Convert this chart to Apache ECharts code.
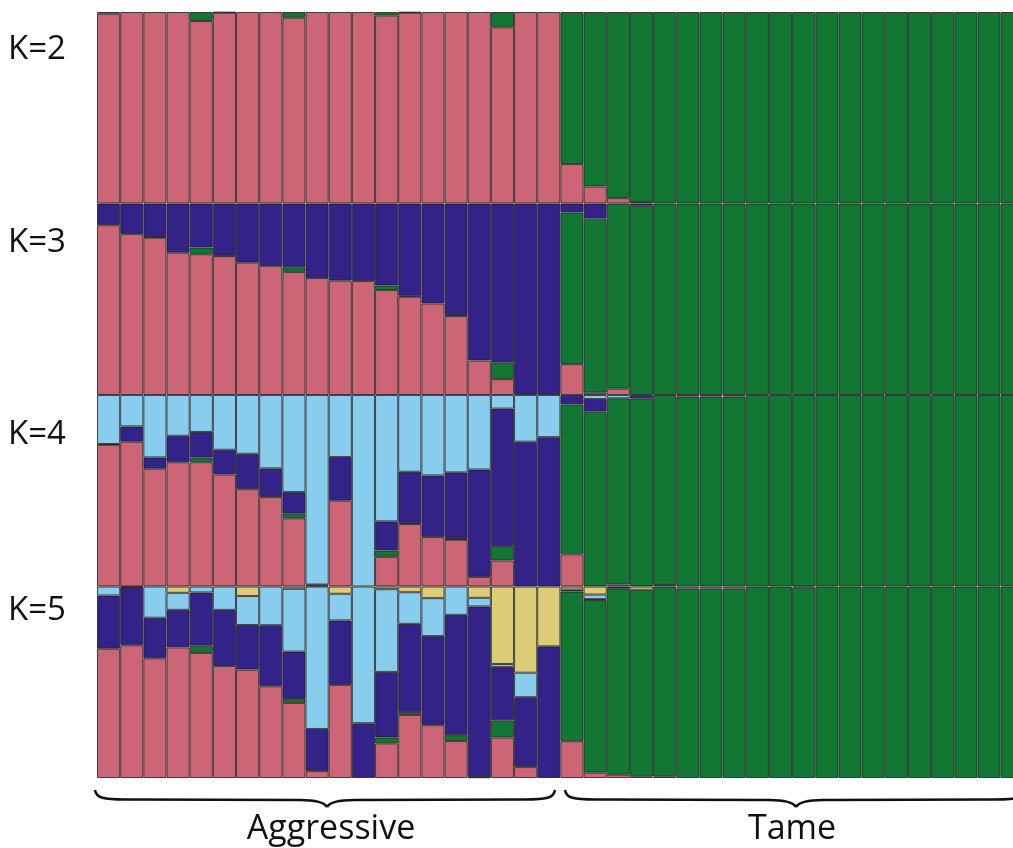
<!DOCTYPE html>
<html>
<head>
<meta charset="utf-8">
<script src="https://cdn.jsdelivr.net/npm/echarts@6/dist/echarts.min.js"></script>
<style>
  html, body { margin: 0; padding: 0; background: #fff; overflow: hidden; }
  /* wider than the window: the last tame bar is cut off by the right edge */
  #chart { width: 1030px; height: 848px; }
</style>
</head>
<body>
<div id="chart"></div>
<script>
// individuals: 20 aggressive, 20 tame (last one runs off the right edge)
const individuals = [
  'A1','A2','A3','A4','A5','A6','A7','A8','A9','A10',
  'A11','A12','A13','A14','A15','A16','A17','A18','A19','A20',
  'T1','T2','T3','T4','T5','T6','T7','T8','T9','T10',
  'T11','T12','T13','T14','T15','T16','T17','T18','T19','T20'
];
const groupLabels = ['Aggressive', 'Tame'];
const kLabels = ['K=2', 'K=3', 'K=4', 'K=5'];

// ancestry proportions, cluster order bottom -> top: pink, green, dark blue, light blue, yellow
const k2Pink  = [0.991,1,1,1,0.953,0.997,1,1,0.97,1, 1,1,0.981,0.997,1,1,1,0.92,1,1,
                 0.206,0.089,0.028,0.008,0,0,0,0,0,0, 0,0,0,0,0,0,0,0,0,0];
const k2Green = [0.009,0,0,0,0.047,0.003,0,0,0.03,0, 0,0,0.019,0.003,0,0,0,0.08,0,0,
                 0.794,0.911,0.972,0.992,1,1,1,1,1,1, 1,1,1,1,1,1,1,1,1,1];

const k3Pink  = [0.887,0.841,0.822,0.743,0.735,0.725,0.691,0.674,0.643,0.611,
                 0.597,0.595,0.548,0.513,0.478,0.412,0.18,0.083,0,0,
                 0.161,0.012,0.033,0,0,0,0,0,0,0, 0,0,0,0,0,0,0,0,0,0];
const k3Green = [0,0,0.003,0,0.035,0.003,0,0,0.024,0, 0,0,0.024,0.005,0,0.005,0,0.086,0,0,
                 0.792,0.909,0.967,0.988,1,1,1,1,1,1, 1,1,1,1,1,1,1,1,1,1];
const k3Blue  = [0.113,0.159,0.175,0.257,0.23,0.272,0.309,0.326,0.333,0.389,
                 0.403,0.405,0.428,0.482,0.522,0.583,0.82,0.831,1,1,
                 0.047,0.079,0,0.012,0,0,0,0,0,0, 0,0,0,0,0,0,0,0,0,0];

const k4Pink  = [0.74,0.756,0.615,0.649,0.649,0.585,0.508,0.467,0.356,0.005,
                 0.448,0,0.155,0.326,0.258,0.244,0.05,0.136,0,0,
                 0.168,0,0.01,0,0.008,0,0,0,0,0, 0,0,0,0,0,0,0,0,0,0];
const k4Green = [0.004,0,0,0,0.024,0,0,0,0.024,0, 0,0,0.033,0.005,0,0.004,0,0.075,0,0,
                 0.783,0.913,0.973,0.983,0.992,0.992,0.992,0.992,1,1, 1,1,1,1,1,1,1,1,1,1];
const k4Blue  = [0,0.08,0.059,0.138,0.134,0.129,0.185,0.15,0.113,0.005,
                 0.228,0,0.152,0.268,0.322,0.348,0.561,0.718,0.756,0.78,
                 0.049,0.066,0,0.017,0,0,0,0,0,0, 0,0,0,0,0,0,0,0,0,0];
const k4Light = [0.256,0.164,0.326,0.213,0.193,0.286,0.307,0.383,0.507,0.99,
                 0.324,1,0.66,0.401,0.42,0.404,0.389,0.071,0.244,0.22,
                 0,0.021,0.017,0,0,0.008,0.008,0.008,0,0, 0,0,0,0,0,0,0,0,0,0];

const k5Pink   = [0.675,0.693,0.625,0.682,0.653,0.585,0.566,0.479,0.392,0.036,
                  0.486,0,0.181,0.329,0.276,0.193,0.004,0.211,0.057,0,
                  0.192,0.028,0.017,0.009,0.007,0,0,0,0,0, 0,0,0,0,0,0,0,0,0,0];
const k5Green  = [0,0,0,0,0.038,0,0,0,0.021,0, 0,0,0.031,0.016,0,0.031,0,0.09,0,0,
                  0.782,0.901,0.971,0.974,0.993,0.99,0.99,0.99,1,1, 0.994,1,1,1,1,1,1,1,1,1];
const k5Blue   = [0.278,0.304,0.212,0.196,0.278,0.293,0.233,0.319,0.247,0.22,
                  0.337,0.286,0.342,0.46,0.465,0.628,0.892,0.278,0.365,0.6875,
                  0.01,0.005,0.012,0,0,0,0,0,0,0, 0,0,0,0,0,0,0,0,0,0];
const k5Light  = [0.047,0.003,0.163,0.089,0.031,0.122,0.151,0.202,0.328,0.744,
                  0.139,0.714,0.432,0.165,0.198,0.148,0.045,0.016,0.128,0,
                  0,0.024,0,0,0,0.01,0.01,0.01,0,0, 0,0,0,0,0,0,0,0,0,0];
const k5Yellow = [0,0,0,0.033,0,0,0.05,0,0.012,0, 0.038,0,0.014,0.03,0.061,0,0.059,0.405,0.45,0.3125,
                  0.016,0.042,0,0.017,0,0,0,0,0,0, 0.006,0,0,0,0,0,0,0,0,0];

const clusterColors = ['#CC6677', '#117733', '#332288', '#88CCEE', '#DDCC77'];

const panels = [
  [k2Pink, k2Green],
  [k3Pink, k3Green, k3Blue],
  [k4Pink, k4Green, k4Blue, k4Light],
  [k5Pink, k5Green, k5Blue, k5Light, k5Yellow]
];

const plotLeft = 97;
const barW = 23.17;
const rowTop = [12, 203.5, 395, 586.5];
const rowH = 191.5;

const chart = echarts.init(document.getElementById('chart'));

const grids = [], xAxes = [], yAxes = [], series = [];
panels.forEach((clusters, i) => {
  grids.push({ left: plotLeft, top: rowTop[i], width: barW * individuals.length, height: rowH });
  xAxes.push({ type: 'category', gridIndex: i, data: individuals, show: false });
  yAxes.push({ type: 'value', gridIndex: i, min: 0, max: 1, show: false });
  clusters.forEach((vals, c) => {
    series.push({
      type: 'bar',
      name: kLabels[i] + '-' + c,
      xAxisIndex: i,
      yAxisIndex: i,
      stack: 'k' + i,
      barCategoryGap: '0%',
      barGap: '0%',
      data: vals.map(v => (v > 0 ? v : null)),
      itemStyle: {
        color: clusterColors[c],
        borderColor: 'rgba(30,30,30,0.8)',
        borderWidth: 1
      },
      emphasis: { disabled: true }
    });
  });
});

// curly brace from x0 to x1, tip at xm, built from cubic pieces
const braceStyle = { fill: 'none', stroke: '#111', lineWidth: 2.5 };
function brace(x0, xm, x1) {
  const top = 790, mid = 799.5, tip = 807;
  const seg = (a, b, c1, c2) => ({
    type: 'bezierCurve',
    shape: { x1: a[0], y1: a[1], x2: b[0], y2: b[1], cpx1: c1[0], cpy1: c1[1], cpx2: c2[0], cpy2: c2[1] },
    style: braceStyle
  });
  const line = (a, b) => ({ type: 'line', shape: { x1: a[0], y1: a[1], x2: b[0], y2: b[1] }, style: braceStyle });
  return [
    seg([x0, top], [x0 + 30, mid], [x0 + 1, top + 8], [x0 + 9, mid]),
    line([x0 + 30, mid], [xm - 27, mid + 0.5]),
    seg([xm - 27, mid + 0.5], [xm, tip], [xm - 11, mid + 0.5], [xm - 3, mid + 2.5]),
    seg([xm, tip], [xm + 27, mid + 0.5], [xm + 3, mid + 2.5], [xm + 11, mid + 0.5]),
    line([xm + 27, mid + 0.5], [x1 - 30, mid]),
    seg([x1 - 30, mid], [x1, top], [x1 - 9, mid], [x1 - 1, top + 8])
  ];
}

const graphics = [].concat(
  brace(95, 327, 555),
  brace(565, 796, 1026),
  [
    { type: 'text', x: 331, y: 829, style: { text: groupLabels[0], font: '34px "Open Sans"', fill: '#111', textAlign: 'center', textVerticalAlign: 'middle' } },
    { type: 'text', x: 792, y: 829, style: { text: groupLabels[1], font: '34px "Open Sans"', fill: '#111', textAlign: 'center', textVerticalAlign: 'middle' } }
  ]
);
const kLabelY = [50, 243, 435, 611];
kLabels.forEach((t, i) => {
  graphics.push({ type: 'text', x: 8, y: kLabelY[i],
    style: { text: t, font: '33px "Open Sans"', fill: '#111', textAlign: 'left', textVerticalAlign: 'middle' } });
});

chart.setOption({
  animation: false,
  grid: grids,
  xAxis: xAxes,
  yAxis: yAxes,
  series: series,
  graphic: graphics
});
</script>
</body>
</html>
